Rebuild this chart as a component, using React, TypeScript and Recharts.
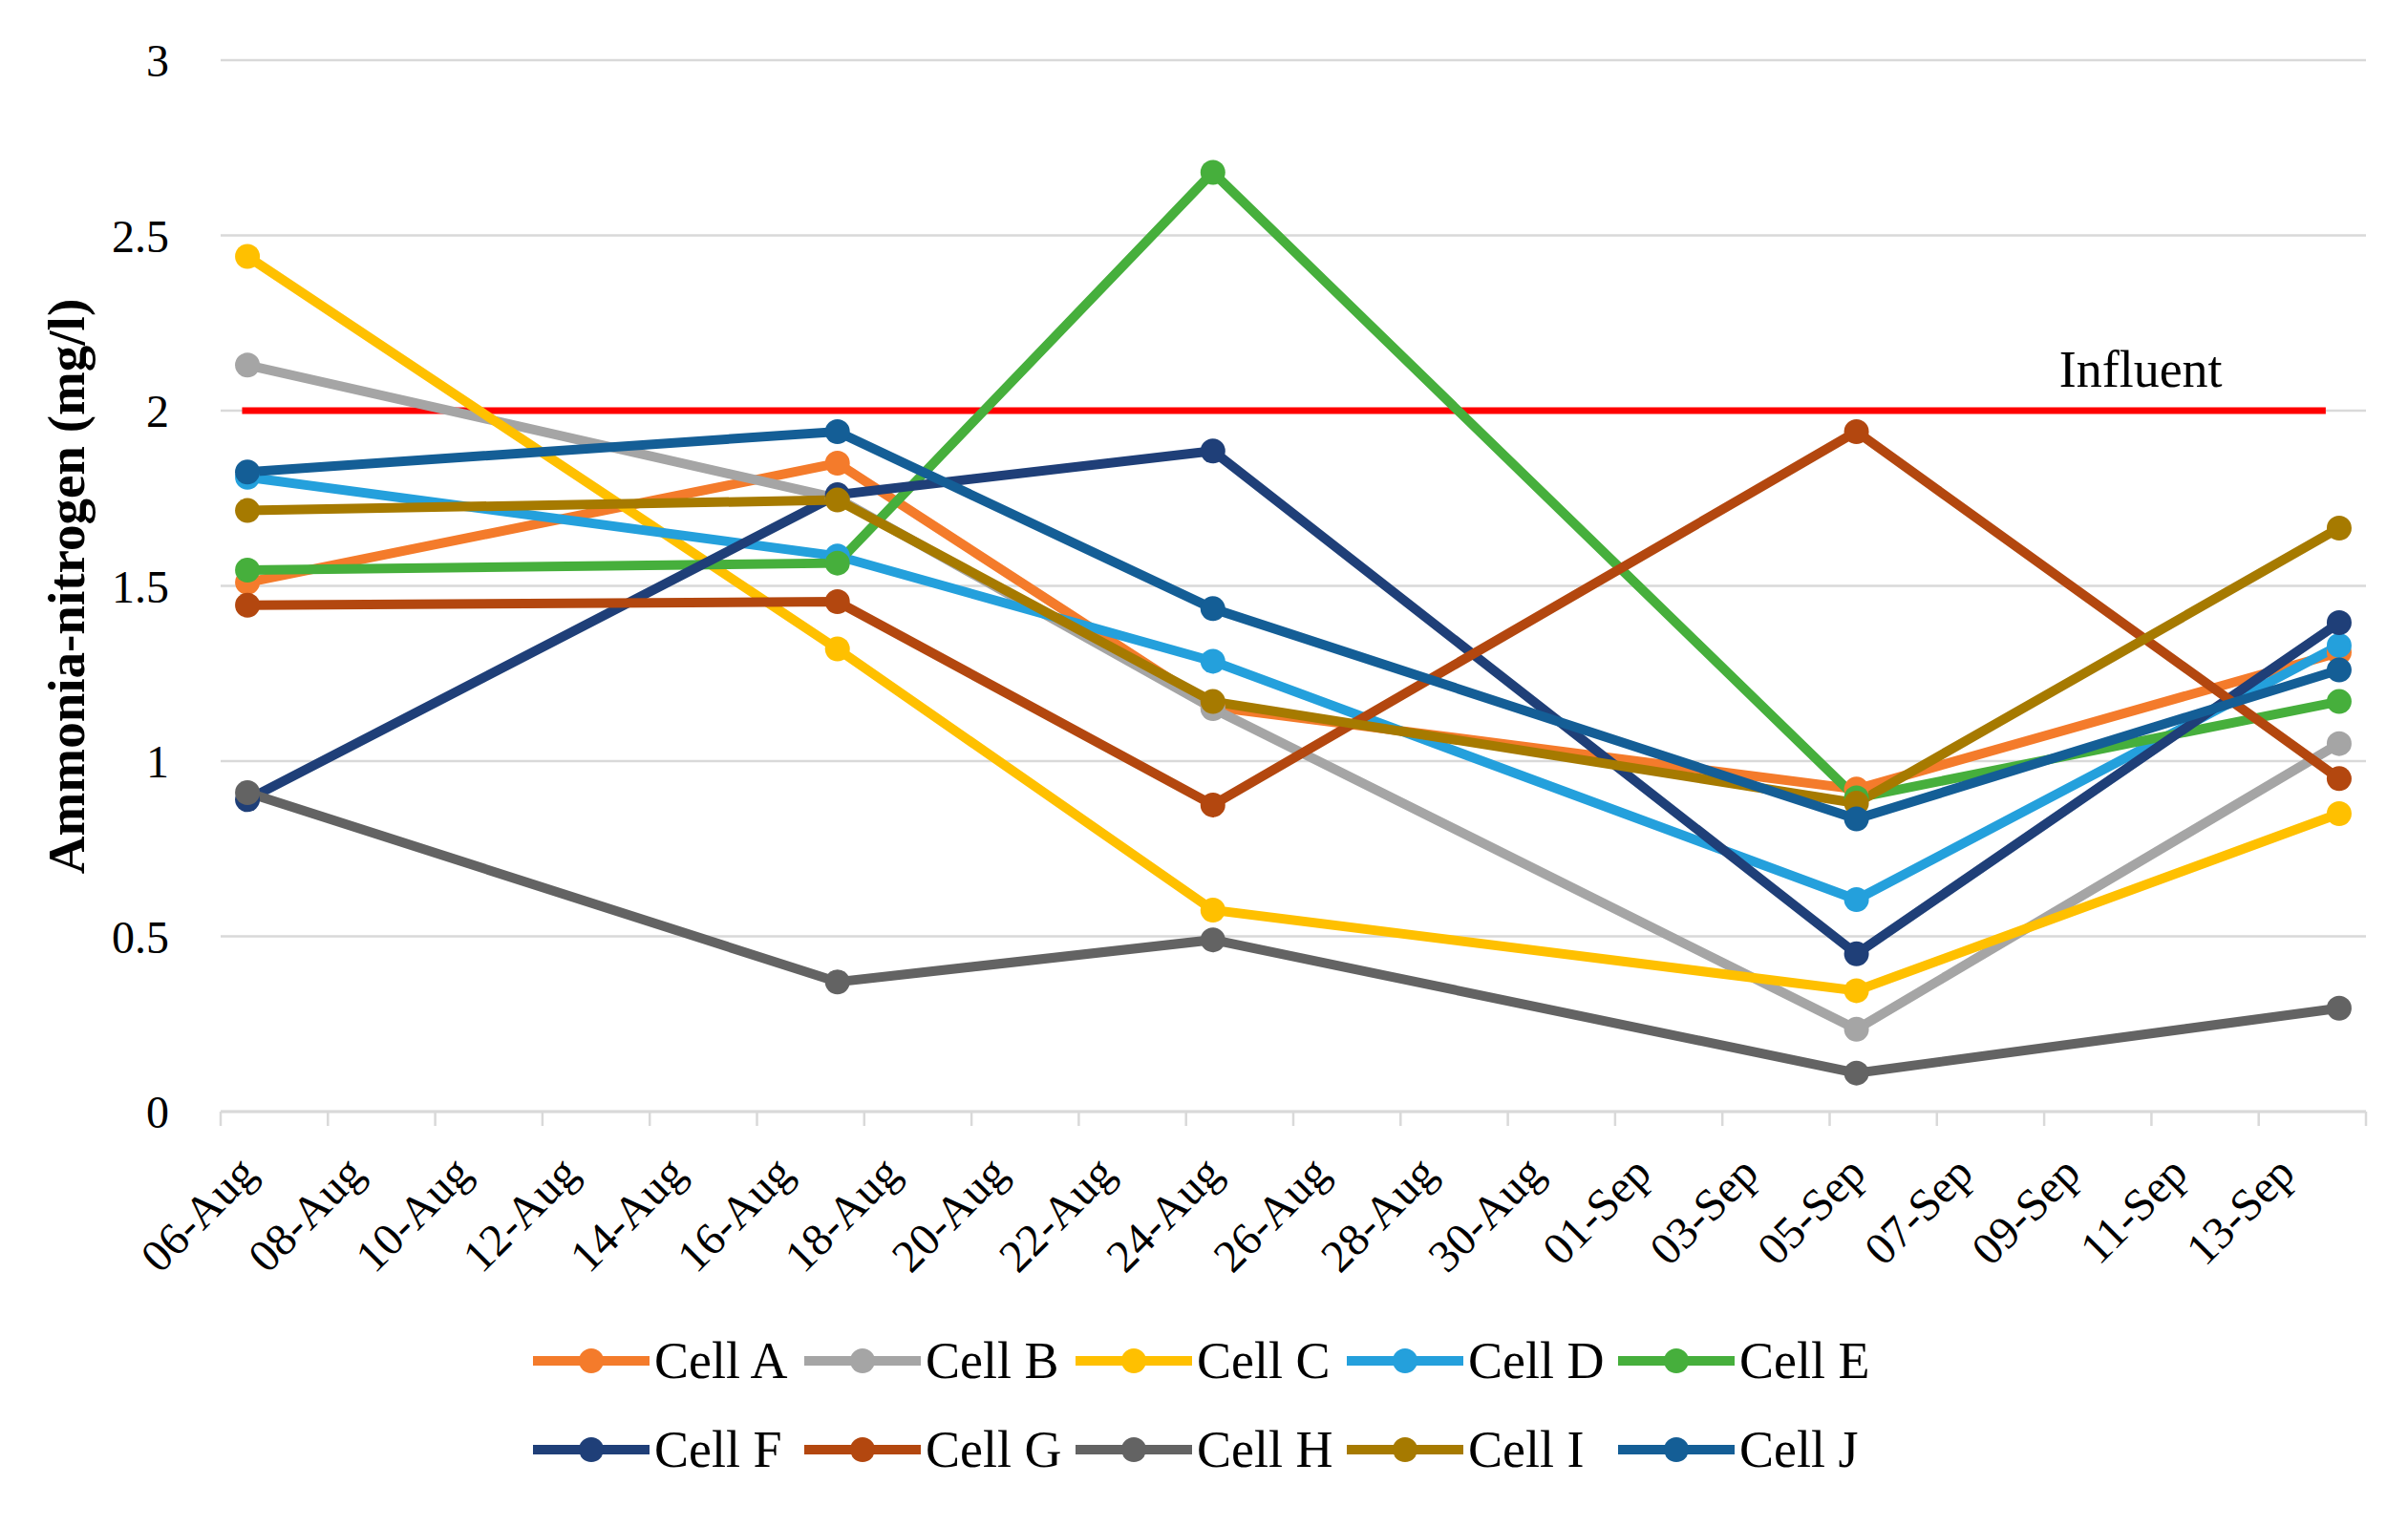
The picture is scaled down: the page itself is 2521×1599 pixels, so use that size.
import React from "react";
import { LineChart, Line, XAxis, YAxis, CartesianGrid, Legend, ReferenceDot } from "recharts";

const FONT = "'Liberation Serif', 'Times New Roman', serif";

// sampling days, counted from 06-Aug (06-Aug, 17-Aug, 24-Aug, 05-Sep, 14-Sep)
const sampleDays = [0, 11, 18, 30, 39];

const tickLabels = [
  "06-Aug", "08-Aug", "10-Aug", "12-Aug", "14-Aug", "16-Aug", "18-Aug",
  "20-Aug", "22-Aug", "24-Aug", "26-Aug", "28-Aug", "30-Aug", "01-Sep",
  "03-Sep", "05-Sep", "07-Sep", "09-Sep", "11-Sep", "13-Sep",
];

const yTicks = [0, 0.5, 1, 1.5, 2, 2.5, 3];

const cellA = [1.51, 1.85, 1.155, 0.92, 1.31];
const cellB = [2.13, 1.75, 1.15, 0.235, 1.05];
const cellC = [2.44, 1.32, 0.575, 0.345, 0.85];
const cellD = [1.81, 1.585, 1.285, 0.605, 1.33];
const cellE = [1.545, 1.565, 2.68, 0.895, 1.17];
const cellF = [0.89, 1.76, 1.885, 0.45, 1.395];
const cellG = [1.445, 1.455, 0.875, 1.94, 0.95];
const cellH = [0.91, 0.37, 0.49, 0.11, 0.295];
const cellI = [1.715, 1.745, 1.17, 0.88, 1.665];
const cellJ = [1.825, 1.94, 1.435, 0.835, 1.26];

const influentLevel = 2;
const influentSpan = [0.4, 39.25];

const series = [
  { key: "A", name: "Cell A", color: "#F47B2B", values: cellA },
  { key: "B", name: "Cell B", color: "#A5A5A5", values: cellB },
  { key: "C", name: "Cell C", color: "#FFC000", values: cellC },
  { key: "D", name: "Cell D", color: "#24A0DC", values: cellD },
  { key: "E", name: "Cell E", color: "#46AF3C", values: cellE },
  { key: "F", name: "Cell F", color: "#1F3F78", values: cellF },
  { key: "G", name: "Cell G", color: "#B3470F", values: cellG },
  { key: "H", name: "Cell H", color: "#636363", values: cellH },
  { key: "I", name: "Cell I", color: "#A67A00", values: cellI },
  { key: "J", name: "Cell J", color: "#145E96", values: cellJ },
];

const rows = sampleDays.map((d, i) => {
  const r: any = { x: d + 0.5 };
  series.forEach((s) => (r[s.key] = s.values[i]));
  return r;
});

const influentData = influentSpan.map((x) => ({ x, v: influentLevel }));

const W = 2521;
const H = 1599;
const M = { top: 63, right: 44, left: 0, bottom: 35 };
const Y_W = 231;
const DAYS = 40;
const DAY_W = (W - M.right - M.left - Y_W) / DAYS;
const xTicks = Array.from({ length: DAYS / 2 + 1 }, (_, i) => i * 2);

function DateTick(props: any) {
  const { x, y, payload } = props;
  const i = Math.round(payload.value / 2);
  if (i >= tickLabels.length) return <g />;
  const ax = x + DAY_W / 2 + 12;
  const ay = y + 50;
  return (
    <text
      x={ax}
      y={ay}
      transform={`rotate(-45 ${ax} ${ay})`}
      textAnchor="end"
      fontSize={48}
      fontFamily={FONT}
      fill="#000"
    >
      {tickLabels[i]}
    </text>
  );
}

function LegendBox() {
  return (
    <div style={{ display: "flex", flexWrap: "wrap", width: 1420, fontFamily: FONT }}>
      {series.map((s) => (
        <div key={s.key} style={{ width: 284, height: 93, display: "flex", alignItems: "center" }}>
          <svg width={122} height={30}>
            <line x1={0} y1={15} x2={122} y2={15} stroke={s.color} strokeWidth={10} />
            <circle cx={61} cy={15} r={13} fill={s.color} />
          </svg>
          <span style={{ fontSize: 54, lineHeight: 1, marginLeft: 5, color: "#000" }}>{s.name}</span>
        </div>
      ))}
    </div>
  );
}

export default function App() {
  return (
    <div style={{ position: "absolute", left: 0, top: 0, width: W, height: H, background: "#fff" }}>
      <LineChart width={W} height={H} data={rows} margin={M}>
        <CartesianGrid vertical={false} stroke="#D9D9D9" strokeWidth={2.5} />
        <XAxis
          dataKey="x"
          type="number"
          domain={[0, DAYS]}
          ticks={xTicks}
          interval={0}
          height={400}
          axisLine={{ stroke: "#D9D9D9", strokeWidth: 3 }}
          tickLine={{ stroke: "#D9D9D9", strokeWidth: 2.5 }}
          tickSize={15}
          tick={<DateTick />}
          allowDataOverflow
        />
        <YAxis
          type="number"
          domain={[0, 3]}
          ticks={yTicks}
          width={Y_W}
          axisLine={false}
          tickLine={false}
          tickSize={0}
          tickMargin={54}
          tick={{ fontSize: 48, fontFamily: FONT, fill: "#000" }}
          label={{
            content: () => (
              <text
                x={69}
                y={614}
                transform="rotate(-90 69 614)"
                textAnchor="middle"
                dominantBaseline="central"
                fontSize={55}
                fontWeight="bold"
                fontFamily={FONT}
                fill="#000"
              >
                Ammonia-nitrogen (mg/l)
              </text>
            ),
          }}
        />
        <Line
          data={influentData}
          dataKey="v"
          name="Influent"
          stroke="#FF0000"
          strokeWidth={7}
          dot={false}
          activeDot={false}
          isAnimationActive={false}
          legendType="none"
        />
        {series.map((s) => (
          <Line
            key={s.key}
            type="linear"
            dataKey={s.key}
            name={s.name}
            stroke={s.color}
            strokeWidth={10}
            dot={{ r: 13, fill: s.color, stroke: s.color, strokeWidth: 0 }}
            activeDot={false}
            isAnimationActive={false}
          />
        ))}
        <ReferenceDot
          x={35.8}
          y={influentLevel}
          r={1}
          fill="none"
          stroke="none"
          label={{ value: "Influent", position: "top", offset: 24, fontSize: 54, fontFamily: FONT, fill: "#000" }}
        />
        <Legend
          layout="horizontal"
          verticalAlign="middle"
          align="center"
          wrapperStyle={{ left: 558, top: 1378, width: 1420 }}
          content={() => <LegendBox />}
        />
      </LineChart>
    </div>
  );
}
